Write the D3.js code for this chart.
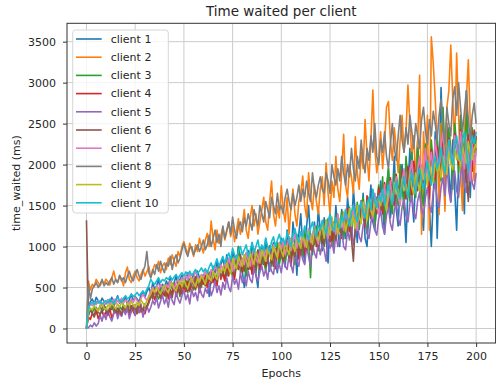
<!DOCTYPE html>
<html>
<head>
<meta charset="utf-8">
<script src="https://cdnjs.cloudflare.com/ajax/libs/d3/7.8.5/d3.min.js"></script>
<style>
  body { margin: 0; background: #fff; }
  text { font-family: "DejaVu Sans", sans-serif; fill: #262626; }
</style>
</head>
<body>
<svg id="chart"></svg>
<script>
const clients = ["client 1", "client 2", "client 3", "client 4", "client 5",
  "client 6", "client 7", "client 8", "client 9", "client 10"];
const colors = ["#1f77b4", "#ff7f0e", "#2ca02c", "#d62728", "#9467bd",
  "#8c564b", "#e377c2", "#7f7f7f", "#bcbd22", "#17becf"];
const xTicks = [0, 25, 50, 75, 100, 125, 150, 175, 200];
const yTicks = [0, 500, 1000, 1500, 2000, 2500, 3000, 3500];

// time waited (ms) per epoch 0..200
const client1 = [
  0, 220, 330, 360, 300, 380, 340, 310, 370, 330,
  300, 350, 320, 380, 290, 340, 400, 310, 360, 330,
  380, 300, 350, 420, 330, 390, 360, 320, 410, 440,
  380, 450, 500, 420, 560, 480, 520, 600, 450, 540,
  500, 580, 520, 620, 480, 560, 640, 520, 600, 650,
  560, 620, 680, 540, 600, 660, 580, 700, 620, 540,
  640, 580, 700, 390, 620, 760, 680, 820, 700, 780,
  860, 720, 900, 800, 680, 940, 860, 760, 1000, 880,
  700, 500, 820, 950, 760, 1050, 880, 650, 500, 900,
  1000, 780, 1100, 850, 700, 950, 1050, 800, 680, 1000,
  1100, 900, 750, 1200, 1000, 850, 1300, 1050, 650, 1150,
  1400, 1000, 800, 1250, 1500, 1100, 900, 1300, 1050, 1450,
  1200, 950, 1350, 1100, 800, 1400, 1250, 1050, 1500, 1200,
  1000, 1450, 1300, 1100, 1600, 1350, 1150, 1700, 1400, 1050,
  1500, 1300, 1650, 1100, 1000, 1450, 1750, 1300, 1200, 1600,
  1400, 1800, 1500, 1150, 1700, 1950, 1350, 1600, 2100, 1450,
  1250, 1800, 2000, 1500, 1050, 1700, 2200, 1600, 1300, 1900,
  2300, 1700, 1400, 1200, 1900, 2100, 1500, 1000, 1600, 2400,
  1100, 1800, 2940, 2200, 1500, 2500, 1900, 1550, 2300, 1700,
  1200, 2000, 2600, 1800, 1400, 2900, 2200, 1600, 2300, 2000,
  2200];
const client2 = [
  0, 580, 470, 540, 510, 600, 560, 520, 580, 550,
  600, 570, 530, 620, 700, 590, 560, 640, 610, 520,
  680, 750, 600, 560, 640, 700, 620, 580, 660, 720,
  640, 690, 760, 620, 700, 780, 740, 820, 680, 760,
  800, 720, 860, 780, 900, 820, 760, 940, 880, 1000,
  1060, 980, 900, 1040, 960, 880, 1020, 940, 1100, 1000,
  920, 1080, 1160, 1000, 1310, 1100, 960, 1200, 1040, 1140,
  1240, 1080, 1180, 1300, 1120, 1250, 1060, 1200, 1340, 1150,
  1280, 1450, 1200, 1100, 1350, 1500, 1250, 1400, 1150, 1300,
  1450, 1600, 1300, 1200, 1550, 1800, 1400, 1250, 1500, 1350,
  1740, 1450, 1300, 1600, 1150, 1500, 1700, 1400, 1250, 1550,
  1650, 1860, 1500, 1350, 1900, 1600, 1450, 1750, 1550, 1400,
  1700, 1850, 1500, 2020, 1650, 1400, 1800, 1600, 2100, 1700,
  1550, 1900, 2370, 1750, 1600, 2000, 1850, 1650, 2340, 1900,
  1700, 2150, 1950, 2550, 2100, 1800, 2300, 2910, 2200, 1900,
  2100, 2400, 1950, 2250, 2700, 2770, 2300, 2050, 2450, 2200,
  1900, 2300, 2600, 2150, 2400, 2970, 2500, 2100, 2350, 1800,
  2250, 3090, 1150, 2400, 2000, 2600, 1200, 3560, 3240, 2800,
  2300, 1390, 2500, 2100, 1430, 2700, 2900, 3460, 2800, 2200,
  3360, 2600, 1900, 1440, 2400, 2800, 3280, 2500, 2100, 1800,
  2300];
const client3 = [
  0, 170, 230, 190, 260, 180, 220, 280, 200, 240,
  260, 190, 230, 300, 210, 250, 180, 270, 230, 290,
  220, 260, 310, 200, 280, 240, 190, 300, 260, 230,
  290, 250, 340, 430, 390, 470, 410, 360, 450, 500,
  430, 380, 520, 470, 410, 540, 450, 500, 390, 560,
  480, 590, 520, 450, 610, 540, 470, 640, 560, 500,
  660, 570, 520, 690, 600, 740, 560, 650, 780, 620,
  700, 590, 820, 680, 750, 620, 880, 720, 1000, 690,
  760, 900, 640, 820, 720, 950, 780, 680, 870, 740,
  960, 820, 700, 880, 1010, 760, 920, 840, 1050, 790,
  900, 1080, 820, 960, 1120, 860, 1000, 780, 1150, 940,
  1040, 880, 1200, 980, 1090, 620, 1160, 1020, 1250, 950,
  1100, 1290, 1000, 1180, 1340, 1060, 1220, 980, 1380, 1150,
  1260, 1420, 1090, 1320, 1200, 1480, 1130, 1380, 1260, 1540,
  1210, 1440, 1600, 1300, 1170, 1520, 1380, 1660, 1250, 1480,
  1750, 1450, 1850, 1300, 1700, 1950, 1550, 1400, 1900, 1650,
  1500, 2000, 1750, 1450, 2100, 1800, 1550, 2150, 1850, 1600,
  2200, 1900, 1650, 1500, 2250, 1950, 1700, 2300, 2000, 1750,
  2350, 2050, 1800, 2700, 2150, 1850, 2450, 2200, 1700, 2500,
  2250, 1900, 2550, 2300, 2000, 2600, 2250, 1850, 2450, 2150,
  2350];
const client4 = [
  0, 140, 110, 190, 150, 230, 120, 180, 210, 140,
  200, 160, 240, 130, 190, 250, 170, 220, 150, 260,
  190, 230, 170, 280, 210, 160, 250, 300, 200, 240,
  180, 270, 320, 380, 460, 350, 420, 490, 380, 440,
  400, 510, 360, 470, 430, 540, 390, 480, 560, 420,
  500, 450, 580, 470, 530, 620, 490, 560, 440, 600,
  540, 650, 500, 610, 700, 560, 630, 520, 720, 600,
  680, 580, 760, 640, 820, 700, 600, 790, 720, 860,
  680, 800, 920, 720, 850, 660, 880, 780, 960, 720,
  820, 940, 760, 880, 1000, 800, 920, 730, 980, 860,
  1000, 820, 940, 1060, 880, 760, 1020, 920, 1100, 850,
  980, 1120, 900, 1040, 1180, 960, 1080, 1220, 1000, 1130,
  1260, 1050, 1180, 1320, 1100, 1240, 1000, 1300, 1160, 1380,
  1220, 1100, 1400, 1280, 1460, 1180, 1340, 1500, 1260, 1420,
  1300, 1560, 1380, 1240, 1620, 1460, 1340, 1680, 1500, 1400,
  1720, 1540, 1400, 1780, 1600, 1460, 1840, 1620, 1500, 1880,
  1680, 1520, 1920, 1760, 1580, 1980, 1780, 1620, 2040, 1840,
  1680, 2080, 1880, 1720, 2140, 1940, 1580, 2180, 1980, 1820,
  2220, 2020, 1860, 2260, 2080, 1920, 2320, 2120, 1960, 2380,
  2180, 2000, 2420, 2240, 2060, 1780, 2360, 2180, 1920, 2420,
  2300];
const client5 = [
  0, 10, 40, 20, 70, 30, 60, 160, 90, 190,
  110, 220, 140, 90, 180, 250, 120, 200, 150, 230,
  170, 260, 120, 210, 290, 160, 240, 190, 300, 140,
  230, 280, 200, 260, 340, 290, 380, 250, 330, 410,
  300, 370, 260, 420, 340, 290, 450, 360, 310, 400,
  470, 350, 420, 300, 480, 390, 440, 340, 510, 420,
  380, 490, 430, 550, 400, 470, 580, 440, 520, 410,
  560, 480, 620, 500, 450, 640, 540, 600, 480, 680,
  560, 620, 520, 700, 600, 560, 740, 640, 580, 690,
  760, 640, 720, 600, 800, 700, 660, 840, 720, 780,
  680, 860, 760, 720, 900, 780, 680, 940, 820, 760,
  960, 840, 780, 1000, 880, 760, 1040, 920, 860, 1080,
  900, 1020, 960, 820, 1100, 980, 1060, 920, 1160, 1000,
  1080, 1220, 1000, 960, 1200, 1080, 1260, 1020, 1140, 1300,
  1120, 1060, 1260, 1340, 1160, 1100, 1300, 1400, 1200, 1140,
  1340, 1440, 1240, 1160, 1380, 1480, 1280, 1200, 1440, 1540,
  1340, 1260, 1480, 1580, 1380, 1300, 1520, 1620, 1420, 1340,
  1560, 1660, 1460, 1380, 1600, 1720, 1500, 1420, 1660, 1780,
  1560, 1480, 1720, 1840, 1620, 2020, 1680, 1540, 1820, 1920,
  1680, 1600, 1880, 1980, 1740, 1660, 1920, 2020, 1780, 1700,
  1900];
const client6 = [
  1320, 160, 230, 180, 140, 260, 200, 170, 240, 290,
  210, 180, 270, 230, 300, 190, 250, 220, 170, 280,
  240, 310, 200, 260, 230, 290, 180, 330, 250, 220,
  300, 260, 310, 420, 360, 480, 400, 440, 370, 500,
  460, 410, 530, 450, 380, 510, 470, 560, 420, 490,
  570, 480, 440, 600, 520, 470, 630, 550, 500, 650,
  580, 520, 680, 600, 550, 720, 640, 580, 760, 620,
  680, 780, 640, 720, 850, 700, 660, 820, 740, 900,
  760, 700, 880, 800, 740, 920, 820, 720, 950, 850,
  780, 960, 880, 800, 1000, 860, 760, 980, 900, 1040,
  880, 820, 1060, 940, 860, 1100, 960, 880, 1120, 1000,
  900, 1140, 1040, 960, 1180, 1060, 940, 1200, 1080, 1000,
  1220, 1100, 1020, 1260, 1140, 1060, 1300, 1180, 1080, 1340,
  1240, 1140, 1380, 1260, 1180, 1420, 1100, 820, 1300, 1460,
  1340, 1520, 1400, 1280, 1560, 1440, 1360, 1620, 1500, 1420,
  1660, 1540, 1460, 1720, 1580, 1500, 1760, 1640, 1560, 1820,
  1680, 1600, 1860, 1740, 1640, 1920, 1780, 1700, 1960, 1840,
  1740, 2020, 1880, 1800, 2060, 1940, 1840, 2120, 1980, 1900,
  2160, 2040, 1950, 2220, 2080, 2000, 2260, 2140, 2050, 2320,
  2180, 2100, 2360, 2240, 2140, 1880, 1550, 2100, 2400, 2300,
  2350];
const client7 = [
  0, 260, 300, 280, 320, 290, 340, 300, 270, 330,
  310, 350, 290, 330, 360, 300, 340, 320, 370, 310,
  350, 330, 300, 360, 320, 380, 340, 300, 370, 420,
  380, 340, 400, 460, 500, 440, 520, 480, 540, 500,
  460, 540, 500, 580, 520, 480, 560, 600, 540, 620,
  580, 650, 600, 680, 560, 620, 700, 640, 580, 660,
  620, 700, 650, 600, 720, 680, 760, 700, 640, 780,
  720, 800, 740, 860, 780, 700, 840, 900, 800, 760,
  860, 780, 920, 840, 760, 900, 980, 850, 800, 940,
  880, 960, 820, 1000, 900, 850, 1020, 940, 880, 1050,
  960, 1080, 900, 1000, 1120, 950, 1050, 1150, 980, 1100,
  1040, 1180, 1000, 1100, 1220, 1050, 1150, 1250, 1100, 1030,
  1200, 1300, 1150, 1250, 1100, 1350, 1200, 1280, 1150, 1400,
  1250, 1350, 1200, 1450, 1300, 1400, 1250, 1500, 1350, 1200,
  1450, 1550, 1350, 1500, 1400, 1600, 1450, 1350, 1650, 1500,
  1400, 1650, 1550, 1750, 1450, 1600, 1800, 1550, 1700, 1850,
  1600, 1500, 1800, 1950, 1700, 1650, 1900, 2050, 1750, 1650,
  1950, 2100, 1800, 1900, 2200, 1850, 2000, 2150, 1900, 2300,
  2100, 1950, 2250, 2400, 2050, 1900, 2300, 2150, 2000, 2350,
  2200, 2050, 2400, 2150, 1950, 2300, 2100, 1800, 2250, 2000,
  2150];
const client8 = [
  0, 540, 360, 480, 520, 560, 500, 540, 600, 520,
  560, 530, 580, 620, 540, 600, 560, 650, 580, 620,
  560, 640, 700, 620, 580, 660, 720, 640, 600, 700,
  760, 940, 680, 620, 720, 660, 780, 700, 820, 740,
  680, 800, 760, 880, 720, 840, 900, 800, 860, 960,
  1040, 940, 880, 980, 1000, 900, 960, 1020, 940, 1000,
  1080, 960, 1020, 1140, 1000, 1100, 1200, 1050, 1150, 1000,
  1250, 1100, 1200, 1300, 1150, 1360, 1200, 1100, 1250, 1300,
  1180, 1350, 1250, 1400, 1300, 1200, 1450, 1350, 1250, 1500,
  1400, 1300, 1550, 1450, 1350, 1600, 1500, 1400, 1650, 1450,
  1500, 1400, 1600, 1700, 1550, 1450, 1650, 1500, 1600, 1750,
  1550, 1700, 1600, 1800, 1650, 1550, 1900, 1700, 1600, 1750,
  1850, 1700, 1650, 1900, 1800, 1650, 2000, 1850, 1750, 1950,
  1800, 2100, 1900, 1750, 2000, 1850, 2200, 1950, 1800, 2100,
  1950, 2300, 2050, 1900, 2200, 2050, 2350, 2150, 2500, 2100,
  2000, 2300, 2150, 2400, 2100, 1950, 2250, 2500, 2200, 2050,
  2350, 2600, 2300, 2150, 2450, 2250, 2600, 2400, 2200, 2500,
  2350, 2200, 2550, 2700, 2400, 2250, 2550, 2350, 2650, 2500,
  2300, 2600, 2800, 2450, 2250, 2700, 2500, 2350, 2800, 2950,
  2600, 3000, 2700, 2400, 2650, 2900, 2550, 2300, 2600, 2750,
  2500];
const client9 = [
  0, 200, 250, 230, 280, 240, 210, 270, 300, 250,
  230, 290, 260, 310, 270, 240, 300, 260, 320, 280,
  250, 310, 280, 330, 290, 260, 320, 280, 350, 310,
  270, 340, 380, 420, 480, 440, 500, 460, 420, 490,
  530, 470, 440, 510, 560, 490, 460, 540, 580, 510,
  590, 530, 490, 570, 620, 550, 510, 610, 570, 640,
  600, 540, 660, 620, 580, 700, 640, 600, 730, 680,
  750, 690, 800, 730, 670, 850, 790, 730, 880, 810,
  760, 900, 830, 750, 920, 850, 780, 940, 870, 800,
  960, 890, 820, 990, 910, 840, 1010, 930, 860, 1030,
  950, 880, 1050, 970, 900, 1090, 1010, 940, 1120, 1040,
  980, 1140, 1060, 990, 1190, 1110, 1030, 1220, 1140, 1070,
  1180, 1260, 1100, 1320, 1220, 1140, 1360, 1200, 1280, 1150,
  1340, 1240, 1420, 1180, 1300, 1460, 1260, 1380, 1220, 1500,
  1360, 1280, 1540, 1420, 1320, 1600, 1440, 1380, 1560, 1460,
  1600, 1500, 1680, 1560, 1440, 1720, 1620, 1520, 1780, 1640,
  1700, 1560, 1820, 1680, 1760, 1600, 1880, 1720, 1640, 1900,
  1780, 1680, 1960, 1820, 1900, 1740, 2020, 1860, 1780, 2060,
  1920, 2000, 1840, 2100, 1960, 1880, 2160, 2020, 1940, 2200,
  2060, 2140, 1980, 2240, 2100, 2020, 2280, 2140, 2060, 2200,
  2250];
const client10 = [
  0, 250, 300, 320, 290, 330, 310, 340, 300, 320,
  340, 310, 360, 330, 300, 350, 380, 340, 320, 370,
  400, 360, 380, 420, 390, 410, 440, 400, 430, 460,
  420, 480, 520, 600, 560, 540, 580, 620, 560, 600,
  580, 620, 600, 640, 590, 630, 660, 610, 650, 680,
  640, 690, 660, 700, 650, 680, 720, 670, 700, 740,
  690, 730, 680, 750, 800, 720, 780, 850, 760, 820,
  880, 800, 860, 920, 840, 980, 900, 850, 940, 1000,
  900, 960, 1020, 880, 950, 1050, 920, 1000, 1080, 950,
  1020, 960, 1100, 1000, 940, 1060, 1120, 1000, 1080, 1150,
  1050, 1100, 1020, 1180, 1080, 1000, 1150, 1220, 1100, 1050,
  1180, 1120, 1250, 1150, 1080, 1220, 1300, 1180, 1120, 1260,
  1200, 1320, 1240, 1150, 1300, 1400, 1250, 1180, 1350, 1280,
  1220, 1380, 1300, 1450, 1350, 1250, 1420, 1500, 1380, 1300,
  1460, 1550, 1400, 1350, 1520, 1600, 1450, 1700, 1550, 1480,
  1620, 1550, 1700, 1500, 1650, 1750, 1600, 1520, 1700, 1800,
  1650, 1580, 1750, 1850, 1700, 1600, 1800, 1900, 1750, 1650,
  1850, 1950, 1800, 1700, 1900, 2050, 1850, 1750, 2000, 2100,
  1950, 2050, 2200, 2000, 1900, 2150, 2300, 2100, 2000, 2250,
  2350, 2150, 2050, 2300, 2400, 2200, 1900, 2100, 2350, 2250,
  2400];
const series = [client1, client2, client3, client4, client5,
  client6, client7, client8, client9, client10];

const w = 496, h = 383;
const plotL = 67, plotR = 495.6, plotT = 23.3, plotB = 343;

const svg = d3.select("#chart").attr("width", w).attr("height", h);

const xScale = d3.scaleLinear().domain([-10, 210]).range([plotL, plotR]);
const yScale = d3.scaleLinear().domain([-177, 3724]).range([plotB, plotT]);

// grid
svg.append("g").selectAll("line").data(xTicks).enter().append("line")
  .attr("x1", d => xScale(d)).attr("x2", d => xScale(d))
  .attr("y1", plotT).attr("y2", plotB)
  .attr("stroke", "#cccccc").attr("stroke-width", 1);
svg.append("g").selectAll("line").data(yTicks).enter().append("line")
  .attr("x1", plotL).attr("x2", plotR)
  .attr("y1", d => yScale(d)).attr("y2", d => yScale(d))
  .attr("stroke", "#cccccc").attr("stroke-width", 1);

// lines
const line = d3.line()
  .x((d, i) => xScale(i))
  .y(d => yScale(d));
svg.append("g").selectAll("path").data(series).enter().append("path")
  .attr("d", line)
  .attr("fill", "none")
  .attr("stroke", (d, i) => colors[i])
  .attr("stroke-width", 1.6)
  .attr("stroke-linejoin", "round");

// frame
svg.append("rect")
  .attr("x", plotL).attr("y", plotT)
  .attr("width", plotR - plotL).attr("height", plotB - plotT)
  .attr("fill", "none").attr("stroke", "#333").attr("stroke-width", 1);

// axes
const axisB = d3.axisBottom(xScale).tickValues(xTicks).tickSize(4).tickPadding(5);
const axisL = d3.axisLeft(yScale).tickValues(yTicks).tickFormat(d3.format("d"))
  .tickSize(4).tickPadding(7);
const gx = svg.append("g").attr("transform", `translate(0,${plotB})`).call(axisB);
const gy = svg.append("g").attr("transform", `translate(${plotL},0)`).call(axisL);
[gx, gy].forEach(g => {
  g.select(".domain").remove();
  g.selectAll(".tick line").attr("stroke", "#333");
  g.selectAll(".tick text").style("font-size", "11px")
    .style("font-family", "'DejaVu Sans', sans-serif").attr("fill", "#262626");
});

// labels
svg.append("text")
  .attr("x", (plotL + plotR) / 2).attr("y", 16)
  .attr("text-anchor", "middle").style("font-size", "13.5px")
  .text("Time waited per client");
svg.append("text")
  .attr("x", (plotL + plotR) / 2).attr("y", 377)
  .attr("text-anchor", "middle").style("font-size", "11px")
  .text("Epochs");
svg.append("text")
  .attr("transform", `translate(20,${(plotT + plotB) / 2}) rotate(-90)`)
  .attr("text-anchor", "middle").style("font-size", "11px")
  .text("time_waited (ms)");

// legend
const legend = svg.append("g");
legend.append("rect")
  .attr("x", 72.7).attr("y", 30).attr("width", 95.6).attr("height", 183)
  .attr("rx", 3).attr("fill", "#fff").attr("fill-opacity", 0.8)
  .attr("stroke", "#d6d6d6").attr("stroke-width", 1);
const entry = legend.selectAll("g.entry").data(clients).enter().append("g")
  .attr("class", "entry")
  .attr("transform", (d, i) => `translate(0,${39 + i * 18.2})`);
entry.append("line")
  .attr("x1", 76).attr("x2", 101.7).attr("y1", 0).attr("y2", 0)
  .attr("stroke", (d, i) => colors[i]).attr("stroke-width", 1.6);
entry.append("text")
  .attr("x", 110.7).attr("y", 0).attr("dy", "0.35em")
  .style("font-size", "11px")
  .text(d => d);
</script>
</body>
</html>
